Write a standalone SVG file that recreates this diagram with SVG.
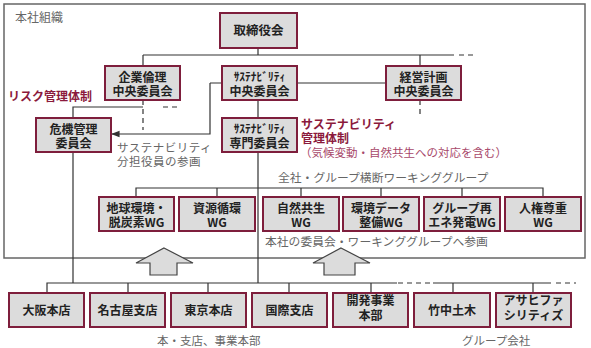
<svg xmlns="http://www.w3.org/2000/svg" width="591" height="348" viewBox="0 0 591 348">
<defs>
<style>
.box{fill:#dcdcdc;stroke:#7e1e3c;stroke-width:2}
.bt{font-family:"Noto Sans CJK JP",sans-serif;font-size:12px;font-weight:bold;fill:#222;text-anchor:middle}
.hw{font-size:11.5px}
.gl{font-family:"Noto Sans CJK JP",sans-serif;font-size:11.5px;fill:#666}
.rl{font-family:"Noto Sans CJK JP",sans-serif;font-size:12px;font-weight:bold;fill:#8b1a3c}
.pl{font-family:"Noto Sans CJK JP",sans-serif;font-size:11.5px;font-weight:normal;fill:#a8486a}
.ln{fill:none;stroke:#333;stroke-width:1.2}
.dl{fill:none;stroke:#333;stroke-width:1.2;stroke-dasharray:5 4}
.frame{fill:none;stroke:#666;stroke-width:1.5}
.arrow{fill:#dcdcdc;stroke:#444;stroke-width:1.2;stroke-linejoin:miter}
</style>
<marker id="ah" viewBox="0 0 10 10" refX="9" refY="5" markerWidth="7" markerHeight="7" orient="auto">
<path d="M0,1 L10,5 L0,9 Z" fill="#333"/>
</marker>
</defs>
<rect width="591" height="348" fill="#fff"/>
<rect class="frame" x="4" y="4" width="581" height="254"/>
<text class="gl" x="15" y="22" style="font-size:12px">本社組織</text>

<g id="connectors">
<path class="ln" d="M258,48 V55 M143,55 H454 M143,55 V66 M420,55 V66"/>
<path class="dl" d="M459,55 H476"/>
<path class="ln" d="M297,83 H386 M210,83 H222"/>
<path class="ln" d="M210,83 V134 H112" marker-end="url(#ah)"/>
<path class="dl" d="M143,100 V130"/>
<path class="dl" d="M420,100 V114"/>
<path class="ln" d="M73,118 V107 H143"/>
<path class="dl" d="M163,107 H181"/>
<path class="ln" d="M258,100 V118 M258,152 V283 M73,152 V283"/>
<path class="ln" d="M136,196 V188 H543 V196 M217,188 V196 M301,188 V196 M381,188 V196 M462,188 V196"/>
<path class="ln" d="M47,293 V283 H397 M433,283 H551 M128,283 V293 M208,283 V293 M289,283 V293 M371,283 V293 M453,283 V293 M533,283 V293"/>
<path class="dl" d="M398,283 H432 M556,283 H576"/>
</g>

<g id="arrow1"><path class="arrow" d="M164,248 L193,263 L177,263 L177,275 L150,275 L150,263 L136,263 Z"/></g>
<g id="arrow2"><path class="arrow" d="M341,248 L370,263 L355,263 L355,275 L324,275 L324,263 L313,263 Z"/></g>

<g id="n_board"><rect class="box" x="220" y="13" width="77" height="35"/><text class="bt" x="258.5" y="35" style="font-size:12.5px">取締役会</text></g>
<g id="n_ethics"><rect class="box" x="105" y="66" width="75" height="34"/><text class="bt" x="142.5" y="81.5">企業倫理<tspan x="142.5" dy="14.5">中央委員会</tspan></text></g>
<g id="n_sus_central"><rect class="box" x="222" y="66" width="75" height="34"/><text class="bt" x="259.5" y="81"><tspan class="hw">ｻｽﾃﾅﾋﾞﾘﾃｨ</tspan><tspan x="259.5" dy="15">中央委員会</tspan></text></g>
<g id="n_plan"><rect class="box" x="386" y="66" width="75" height="34"/><text class="bt" x="423.5" y="81.5">経営計画<tspan x="423.5" dy="14.5">中央委員会</tspan></text></g>
<g id="n_risk"><rect class="box" x="36" y="118" width="75" height="34"/><text class="bt" x="73.5" y="133.5">危機管理<tspan x="73.5" dy="14.5">委員会</tspan></text></g>
<g id="n_sus_expert"><rect class="box" x="222" y="118" width="75" height="34"/><text class="bt" x="259.5" y="133"><tspan class="hw">ｻｽﾃﾅﾋﾞﾘﾃｨ</tspan><tspan x="259.5" dy="15">専門委員会</tspan></text></g>

<text class="rl" x="8" y="101">リスク管理体制</text>
<text class="gl" x="117" y="152" style="letter-spacing:0.5px">サステナビリティ<tspan x="117" dy="14">分担役員の参画</tspan></text>
<text class="rl" x="301" y="129">サステナビリティ<tspan x="301" dy="14">管理体制</tspan><tspan class="pl" x="300" dy="14">（気候変動・自然共生への対応を含む）</tspan></text>
<text class="gl" x="278" y="182" style="font-size:11.8px">全社・グループ横断ワーキンググループ</text>

<g id="wg1"><rect class="box" x="99" y="197" width="75" height="34"/><text class="bt" x="136.5" y="212.5">地球環境・<tspan x="136.5" dy="14.5">脱炭素WG</tspan></text></g>
<g id="wg2"><rect class="box" x="179" y="197" width="76" height="34"/><text class="bt" x="217" y="212.5">資源循環<tspan x="217" dy="14.5">WG</tspan></text></g>
<g id="wg3"><rect class="box" x="263" y="197" width="76" height="34"/><text class="bt" x="301" y="212.5">自然共生<tspan x="301" dy="14.5">WG</tspan></text></g>
<g id="wg4"><rect class="box" x="343" y="197" width="76" height="34"/><text class="bt" x="381" y="212.5">環境データ<tspan x="381" dy="14.5">整備WG</tspan></text></g>
<g id="wg5"><rect class="box" x="424" y="197" width="76" height="34"/><text class="bt" x="462" y="212.5">グループ再<tspan x="462" dy="14.5">エネ発電WG</tspan></text></g>
<g id="wg6"><rect class="box" x="505" y="197" width="76" height="34"/><text class="bt" x="543" y="212.5">人権尊重<tspan x="543" dy="14.5">WG</tspan></text></g>

<text class="gl" x="265" y="246" style="font-size:11.8px">本社の委員会・ワーキンググループへ参画</text>

<g id="b1"><rect class="box" x="9" y="293" width="75" height="34"/><text class="bt" x="46.5" y="314.5">大阪本店</text></g>
<g id="b2"><rect class="box" x="90" y="293" width="75" height="34"/><text class="bt" x="127.5" y="314.5">名古屋支店</text></g>
<g id="b3"><rect class="box" x="171" y="293" width="75" height="34"/><text class="bt" x="208.5" y="314.5">東京本店</text></g>
<g id="b4"><rect class="box" x="252" y="293" width="75" height="34"/><text class="bt" x="289.5" y="314.5">国際支店</text></g>
<g id="b5"><rect class="box" x="333" y="293" width="75" height="34"/><text class="bt" x="370.5" y="305">開発事業<tspan x="370.5" dy="15">本部</tspan></text></g>
<g id="b6"><rect class="box" x="414" y="293" width="76" height="34"/><text class="bt" x="452" y="314.5">竹中土木</text></g>
<g id="b7"><rect class="box" x="496" y="293" width="75" height="34"/><text class="bt" x="533.5" y="305">アサヒファ<tspan x="533.5" dy="15">シリティズ</tspan></text></g>

<text class="gl" x="157" y="345">本・支店、事業本部</text>
<text class="gl" x="462" y="345">グループ会社</text>
</svg>
